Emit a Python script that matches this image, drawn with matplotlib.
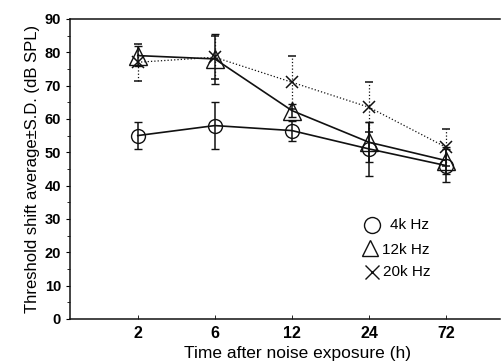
import numpy as np
import matplotlib
matplotlib.use('Agg')
import matplotlib.pyplot as plt

# Data
times = ['2', '6', '12', '24', '72']
mean_4k = [55, 58, 56.5, 51, 46]
sd_4k = [4, 7, 3, 8, 5]
mean_12k = [79, 78, 62.5, 53, 47.5]
sd_12k = [3, 7.5, 2, 6, 4]
mean_20k = [77, 78.5, 71, 63.5, 51.5]
sd_20k = [5.5, 6.5, 8, 7.5, 5.5]

plt.rcParams['font.family'] = ['Liberation Sans', 'DejaVu Sans']

fig = plt.figure(figsize=(5.03, 3.64), dpi=100)
ax = fig.add_axes([0.139, 0.124, 0.855, 0.824])

x = np.arange(1, len(times) + 1)
col = '#111111'

# 20k Hz (dotted)
eb = ax.errorbar(x, mean_20k, yerr=sd_20k, color=col, lw=0.9, ls=':',
                 marker='x', ms=9, mew=1.1, capsize=3, elinewidth=0.9, zorder=2)
eb[-1][0].set_linestyle(':')
# 12k Hz
ax.errorbar(x, mean_12k, yerr=sd_12k, color=col, lw=1.2, marker='^', ms=13,
            mfc='none', mew=1.0, capsize=3, elinewidth=1.1, zorder=3)
# 4k Hz
ax.errorbar(x, mean_4k, yerr=sd_4k, color=col, lw=1.2, marker='o', ms=10,
            mfc='none', mew=1.0, capsize=3, elinewidth=1.1, zorder=3)

ax.set_xlim(0.12, 5.7)
ax.set_ylim(0, 90)
ax.set_xticks(x)
ax.set_xticklabels(times, fontsize=11.5, fontweight='bold')
ax.set_yticks(np.arange(0, 91, 10))
ax.set_yticks(np.arange(0, 91, 5), minor=True)
ax.tick_params(axis='y', labelsize=10.5, length=3, width=0.8, direction='out')
ax.tick_params(axis='y', which='minor', length=2, width=0.6)
for lbl in ax.get_yticklabels():
    lbl.set_fontweight('bold')
ax.tick_params(axis='x', direction='in', length=3, width=0.6, pad=5)

ax.spines['right'].set_visible(False)
for s in ['left', 'bottom', 'top']:
    ax.spines[s].set_linewidth(1.1)
    ax.spines[s].set_color(col)

ax.set_xlabel('Time after noise exposure (h)', fontsize=12.5, labelpad=0)
ax.xaxis.set_label_coords(0.53, -0.09)
ax.set_ylabel('Threshold shift average\u00b1S.D. (dB SPL)', fontsize=12, labelpad=3)

# legend drawn as markers + text
ax.plot([4.04], [28.2], marker='o', ms=11.5, mfc='none', mec=col, mew=1.0, ls='none')
ax.text(4.27, 28.2, '4k Hz', fontsize=11, va='center')
ax.plot([4.01], [21.2], marker='^', ms=12, mfc='none', mec=col, mew=1.0, ls='none')
ax.text(4.17, 20.6, '12k Hz', fontsize=11, va='center')
ax.plot([4.04], [14.1], marker='x', ms=10, mec=col, mew=1.0, ls='none')
ax.text(4.18, 14.1, '20k Hz', fontsize=11, va='center')

fig.savefig('out.png', dpi=100)
